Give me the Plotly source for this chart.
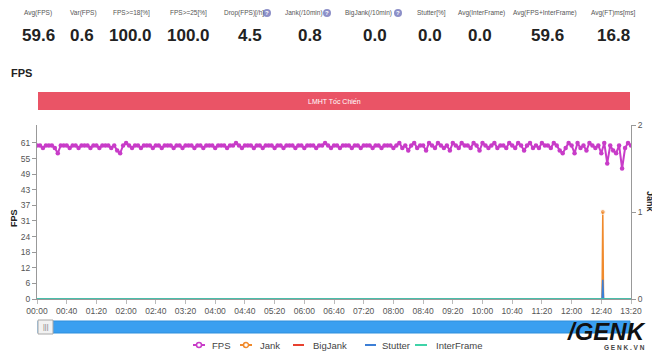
import plotly.graph_objects as go

# ---------------- data ----------------
stat_labels = ["Avg(FPS)", "Var(FPS)", "FPS>=18[%]", "FPS>=25[%]", "Drop(FPS)[/h]", "Jank(/10min)",
               "BigJank(/10min)", "Stutter[%]", "Avg(InterFrame)", "Avg(FPS+InterFrame)", "Avg(FT)ms[ms]"]
stat_values = ["59.6", "0.6", "100.0", "100.0", "4.5", "0.8", "0.0", "0.0", "0.0", "59.6", "16.8"]
stat_help = [False, False, False, False, True, True, True, False, False, False, False]

# time samples in seconds (every 4 s)
fps_t = list(range(0, 801, 4))
fps_v = [
    60, 60, 59, 60, 60, 60, 59, 57, 60, 60, 60, 59, 60, 60, 59, 60, 60, 60, 59, 60,
    60, 59, 60, 60, 60, 59, 60, 58, 57, 60, 61, 60, 59, 60, 60, 59, 60, 60, 60, 59,
    60, 60, 59, 60, 60, 60, 59, 60, 60, 59, 60, 60, 60, 59, 60, 60, 59, 60, 60, 60,
    59, 60, 60, 60, 59, 60, 60, 61, 60, 59, 60, 60, 60, 59, 60, 60, 59, 60, 60, 60,
    59, 60, 60, 59, 60, 60, 60, 59, 60, 60, 59, 60, 60, 60, 59, 60, 60, 61, 60, 59,
    60, 60, 59, 60, 60, 60, 59, 60, 60, 59, 60, 60, 60, 59, 60, 60, 59, 60, 60, 60,
    59, 60, 61, 59, 60, 58, 60, 61, 59, 60, 60, 58, 61, 60, 59, 61, 60, 59, 60, 58,
    61, 60, 59, 61, 60, 60, 59, 61, 60, 58, 61, 60, 59, 60, 61, 59, 60, 60, 59, 61,
    60, 59, 61, 60, 58, 60, 61, 59, 60, 59, 61, 60, 60, 59, 61, 60, 58, 57, 59, 61,
    60, 57, 61, 59, 60, 58, 61, 60, 59, 60, 57, 61, 53, 60, 58, 57, 60, 51, 59, 61,
    60,
]

jank_t = [0, 761, 762, 763, 800]
jank_v = [0, 0, 1, 0, 0]
stutter_t = [0, 761, 762, 763, 800]
stutter_v = [0, 0, 0.22, 0, 0]
bigjank_t = [0, 800]
bigjank_v = [0, 0]
inter_t = [0, 800]
inter_v = [0, 0]

series_names = ["FPS", "Jank", "BigJank", "Stutter", "InterFrame"]

x_tickvals = list(range(0, 801, 40))
x_ticktext = ["00:00", "00:40", "01:20", "02:00", "02:40", "03:20", "04:00", "04:40", "05:20", "06:00",
              "06:40", "07:20", "08:00", "08:40", "09:20", "10:00", "10:40", "11:20", "12:00", "12:40", "13:20"]
y_tickvals = [0, 6.1, 12.2, 18.3, 24.4, 30.5, 36.6, 42.7, 48.8, 54.9, 61]
y_ticktext = ["0", "6", "12", "18", "24", "31", "37", "43", "49", "55", "61"]

scene_name = "LMHT Tốc Chiến"

# ---------------- layout helpers ----------------
# page body has an 8px margin, so the figure is drawn 8px right/down of the window corner
OFF = 8
WIN_W, WIN_H = 660, 353
L, R, T, B = 37, 631, 125, 299   # plot area in window pixels


def px(x):
    return (x - L) / (R - L)


def py(y):
    return (B - y) / (B - T)


FONT = "Liberation Sans, Arial, sans-serif"
C_FPS = "#c83cc8"
C_JANK = "#f08a2c"
C_BIG = "#e8412f"
C_STUT = "#3d7fd6"
C_INTER = "#3fd3a8"
colors = [C_FPS, C_JANK, C_BIG, C_STUT, C_INTER]

fig = go.Figure()
fig.add_trace(go.Scatter(x=fps_t, y=fps_v, name="FPS", mode="lines+markers",
                         line=dict(color=C_FPS, width=2), marker=dict(size=4.5, color=C_FPS)))
fig.add_trace(go.Scatter(x=bigjank_t, y=bigjank_v, name="BigJank", mode="lines", yaxis="y2",
                         line=dict(color=C_BIG, width=1.5)))
fig.add_trace(go.Scatter(x=jank_t, y=jank_v, name="Jank", mode="lines+markers", yaxis="y2",
                         line=dict(color=C_JANK, width=1.5),
                         marker=dict(size=[0, 0, 5, 0, 0], color=C_JANK)))
fig.add_trace(go.Scatter(x=stutter_t, y=stutter_v, name="Stutter", mode="lines", yaxis="y2",
                         line=dict(color=C_STUT, width=1.5)))
fig.add_trace(go.Scatter(x=inter_t, y=inter_v, name="InterFrame", mode="lines", yaxis="y2",
                         line=dict(color=C_INTER, width=1.5)))

annotations = []
shapes = []

# top statistics
lab_x = [38, 83, 131, 188, 244, 304, 368, 431, 481, 545, 613]
val_x = [38, 82, 130, 188, 250, 310, 375, 430, 480, 547, 613]
icon_x = {4: 267, 5: 327, 6: 398}
LAB_Y = 13
for i, (lab, val) in enumerate(zip(stat_labels, stat_values)):
    annotations.append(dict(x=px(lab_x[i]), y=py(LAB_Y), xref="paper", yref="paper", text=lab, showarrow=False,
                            font=dict(family=FONT, size=6.5, color="#555"), xanchor="center", yanchor="middle"))
    annotations.append(dict(x=px(val_x[i]), y=py(35), xref="paper", yref="paper", text="<b>%s</b>" % val,
                            showarrow=False, font=dict(family=FONT, size=17, color="#222"),
                            xanchor="center", yanchor="middle"))
    if stat_help[i]:
        cx = icon_x[i]
        shapes.append(dict(type="circle", xref="paper", yref="paper", x0=px(cx - 4), x1=px(cx + 4),
                           y0=py(LAB_Y + 4), y1=py(LAB_Y - 4), fillcolor="#8d90c8", line=dict(width=0)))
        annotations.append(dict(x=px(cx), y=py(LAB_Y), xref="paper", yref="paper", text="<b>?</b>",
                                showarrow=False, font=dict(family=FONT, size=6, color="white"),
                                xanchor="center", yanchor="middle"))

# section title
annotations.append(dict(x=px(9), y=py(73), xref="paper", yref="paper", text="<b>FPS</b>", showarrow=False,
                        font=dict(family=FONT, size=11, color="#222"), xanchor="left", yanchor="middle"))

# scene banner
shapes.append(dict(type="rect", xref="paper", yref="paper", x0=px(38), x1=px(630), y0=py(110), y1=py(92),
                   fillcolor="#ea5466", line=dict(width=0)))
annotations.append(dict(x=px(334), y=py(101), xref="paper", yref="paper", text=scene_name, showarrow=False,
                        font=dict(family=FONT, size=7, color="white"), xanchor="center", yanchor="middle"))

# axis titles
annotations.append(dict(x=px(14), y=py(218), xref="paper", yref="paper", text="<b>FPS</b>", showarrow=False,
                        textangle=-90, font=dict(family=FONT, size=9, color="#222"),
                        xanchor="center", yanchor="middle"))
annotations.append(dict(x=px(650), y=py(202), xref="paper", yref="paper", text="<b>Jank</b>", showarrow=False,
                        textangle=90, font=dict(family=FONT, size=9, color="#222"),
                        xanchor="center", yanchor="middle"))

# data-zoom slider
shapes.append(dict(type="rect", xref="paper", yref="paper", x0=px(38), x1=px(630), y0=py(333), y1=py(321),
                   fillcolor="#3a9ff0", line=dict(color="#2f8fdc", width=1)))
shapes.append(dict(type="rect", xref="paper", yref="paper", x0=px(38), x1=px(53), y0=py(334), y1=py(320),
                   fillcolor="#f2f2f2", line=dict(color="#a8a8a8", width=1)))
annotations.append(dict(x=px(45.5), y=py(327), xref="paper", yref="paper", text="|||", showarrow=False,
                        font=dict(family=FONT, size=7, color="#777"), xanchor="center", yanchor="middle"))

# custom legend (line sample + label)
leg_line_x = [(193, 205), (240, 252), (293, 304), (365, 376), (415, 427)]
leg_text_x = [210, 258, 311, 380, 434]
leg_y = 345
for i, name in enumerate(series_names):
    x0, x1 = leg_line_x[i]
    shapes.append(dict(type="line", xref="paper", yref="paper", x0=px(x0), x1=px(x1), y0=py(leg_y), y1=py(leg_y),
                       line=dict(color=colors[i], width=2)))
    if name in ("FPS", "Jank"):
        cx = (x0 + x1) / 2
        shapes.append(dict(type="circle", xref="paper", yref="paper", x0=px(cx - 2.5), x1=px(cx + 2.5),
                           y0=py(leg_y + 2.5), y1=py(leg_y - 2.5), fillcolor="white",
                           line=dict(color=colors[i], width=1.5)))
    annotations.append(dict(x=px(leg_text_x[i]), y=py(leg_y), xref="paper", yref="paper", text=name,
                            showarrow=False, font=dict(family=FONT, size=9.5, color="#444"),
                            xanchor="left", yanchor="middle"))

# watermark
annotations.append(dict(x=px(606), y=py(331), xref="paper", yref="paper", text="<b><i>/GENK</i></b>",
                        showarrow=False, font=dict(family=FONT, size=24, color="#111"),
                        xanchor="center", yanchor="middle"))
annotations.append(dict(x=px(624), y=py(347), xref="paper", yref="paper", text="<b>G E N K . V N</b>",
                        showarrow=False, font=dict(family=FONT, size=6.5, color="#444"),
                        xanchor="center", yanchor="middle"))

fig.update_layout(
    width=WIN_W - OFF, height=WIN_H - OFF,
    margin=dict(l=L - OFF, r=WIN_W - R, t=T - OFF, b=WIN_H - B, autoexpand=False),
    paper_bgcolor="white", plot_bgcolor="white",
    font=dict(family=FONT, size=9, color="#555"),
    showlegend=False,
    xaxis=dict(range=[0, 800], tickvals=x_tickvals, ticktext=x_ticktext, showgrid=False, zeroline=False,
               showline=True, linecolor="#999", linewidth=1, ticks="outside", ticklen=4, tickcolor="#bbb",
               tickfont=dict(family=FONT, size=8.5, color="#555")),
    yaxis=dict(range=[0, 68], tickvals=y_tickvals, ticktext=y_ticktext, showgrid=False, zeroline=False,
               showline=True, linecolor="#999", linewidth=1, ticks="outside", ticklen=4, tickcolor="#999",
               tickfont=dict(family=FONT, size=8.5, color="#555")),
    yaxis2=dict(range=[0, 2], overlaying="y", side="right", tickvals=[0, 1, 2], showgrid=False, zeroline=False,
                showline=True, linecolor="#999", linewidth=1, ticks="outside", ticklen=4, tickcolor="#999",
                tickfont=dict(family=FONT, size=8.5, color="#555")),
    annotations=annotations,
    shapes=shapes,
)

fig.write_html("out.html")
